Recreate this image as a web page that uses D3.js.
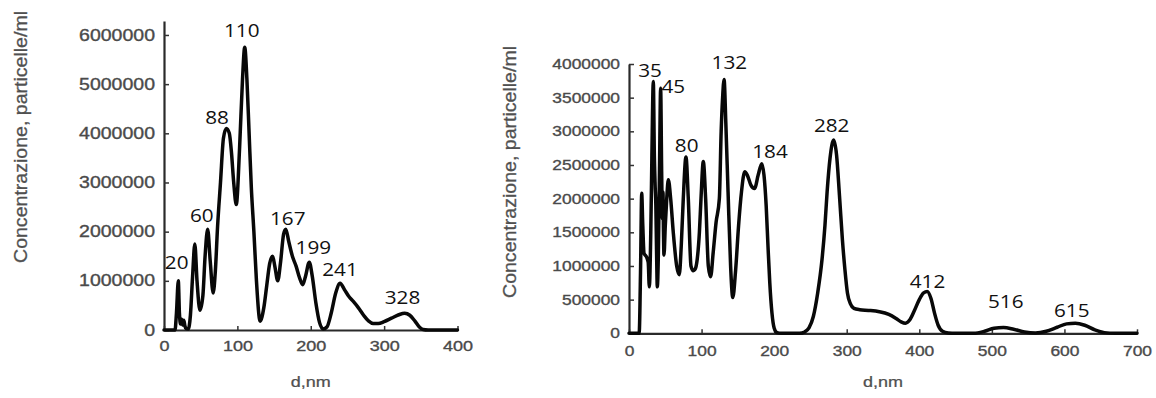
<!DOCTYPE html>
<html><head><meta charset="utf-8">
<script src="https://cdn.jsdelivr.net/npm/d3@7"></script>
<style>html,body{margin:0;padding:0;background:#fff;} svg{display:block;}</style>
</head><body>
<svg id="c" width="1156" height="398"></svg>
<script>
// ---------- DATA ----------
const yTitle = "Concentrazione, particelle/ml";
const xTitle = "d,nm";

// Left chart
const leftSize = [0,15,17,19.5,21,22.5,24,25.5,27,28.5,30,33,36,39,42,45,49,53,56,59.5,63,67,70,73,77,81,85,89,92,95,98.5,103,107,110,113,116,119,122.5,126,131,136,140,144,148,151,155,159,163,166,170,175,180,185,189,193,198,202,207,212,217,222,228,234,240,246,252,258,265,272,279,285,292,300,310,320,328,335,342,348,353,360,400];
const leftConc = [0,0,3.5e5,1.0e6,3.5e5,1.2e5,2.2e5,1.0e5,2.0e5,8e4,3e4,2e4,3.0e5,1.1e6,1.75e6,1.0e6,4.0e5,7.0e5,1.5e6,2.05e6,1.4e6,7.5e5,1.2e6,2.1e6,3.0e6,3.9e6,4.1e6,4.0e6,3.6e6,3.0e6,2.55e6,3.7e6,5.1e6,5.75e6,5.1e6,4.0e6,2.9e6,2.0e6,1.0e6,1.8e5,4.5e5,9.0e5,1.35e6,1.5e6,1.3e6,1.0e6,1.4e6,1.95e6,2.05e6,1.8e6,1.5e6,1.3e6,1.05e6,9.2e5,1.1e6,1.38e6,1.1e6,5.5e5,1.5e5,2e4,6e4,3.5e5,7.5e5,9.5e5,8.2e5,6.8e5,5.8e5,4.5e5,3.0e5,1.8e5,1.3e5,1.3e5,1.7e5,2.4e5,3.1e5,3.4e5,3.0e5,1.8e5,6e4,1e4,0,0];
const leftXTicks = [0,100,200,300,400];
const leftYTicks = [0,1000000,2000000,3000000,4000000,5000000,6000000];
const leftPeaks = [20,60,88,110,167,199,241,328];
const leftPeakConc = [1.0e6,2.05e6,4.1e6,5.75e6,2.05e6,1.38e6,9.5e5,3.4e5];

// Right chart
const rightSize = [0,14,16,17.5,19,20.7,24.3,26.5,28,30,31.5,33.5,35,36,37,38,39,40.5,42,43.6,45,46,46.8,47.5,48.2,50,52,54.2,57.4,61,65.7,69.3,72,74.8,78.5,81.7,85.4,88.6,91,94,97,99.2,102.4,105.6,109.3,112.5,116,120,124.5,127,129,131,133.5,136.5,140,143,147,151,155,159.5,163,168,173,178,183,186,189,191.5,194,197,200,204,210,235,242,248,254,260,266,270,273,277,282,286,290,294,297.5,301,305,310,318,330,345,358,368,375,381,387,393,400,406,411,416,421,426,432,440,450,475,490,503,516,530,545,560,575,590,603,615,628,642,655,670,700];
const rightConc = [0,0,1.0e6,2.08e6,1.6e6,1.19e6,1.13e6,1.05e6,6.9e5,1.5e6,2.6e6,3.74e6,2.6e6,2.2e6,1.9e6,1.2e6,6.9e5,1.2e6,2.4e6,3.64e6,2.4e6,1.7e6,2.1e6,1.5e6,1.16e6,1.6e6,2.0e6,2.28e6,2.0e6,1.5e6,1.0e6,8.7e5,1.3e6,2.0e6,2.62e6,2.0e6,1.0e6,9.3e5,9.5e5,1.1e6,1.5e6,2.0e6,2.55e6,2.0e6,1.0e6,8.4e5,1.2e6,1.65e6,2.0e6,3.0e6,3.5e6,3.77e6,3.1e6,2.1e6,1.0e6,5.3e5,9.5e5,1.6e6,2.1e6,2.4e6,2.35e6,2.2e6,2.15e6,2.35e6,2.52e6,2.35e6,1.9e6,1.3e6,7.5e5,3.0e5,8e4,1e4,0,0,2e4,8e4,2.5e5,6.0e5,1.1e6,1.6e6,2.1e6,2.6e6,2.87e6,2.65e6,2.05e6,1.4e6,9.5e5,6.0e5,4.4e5,3.7e5,3.5e5,3.4e5,3.2e5,2.8e5,2.2e5,1.7e5,1.5e5,2.0e5,3.3e5,5.0e5,6.0e5,6.2e5,5.2e5,3.0e5,1.2e5,3e4,5e3,0,0,3e4,7.5e4,8.5e4,6e4,2e4,5e3,3e4,9e4,1.4e5,1.5e5,1.2e5,5e4,1e4,0,0];
const rightXTicks = [0,100,200,300,400,500,600,700];
const rightYTicks = [0,500000,1000000,1500000,2000000,2500000,3000000,3500000,4000000];
const rightPeaks = [35,45,80,132,184,282,412,516,615];
const rightPeakConc = [3.74e6,3.64e6,2.62e6,3.77e6,2.52e6,2.87e6,6.2e5,8.5e4,1.5e5];

// ---------- LAYOUT / STYLE (not data) ----------
const leftLabelOffsets = [[-2,-18.3],[-6.3,-14],[-11.6,-11.4],[-3,-17],[1.2,-10.9],[3.3,-14.6],[-0.8,-14.3],[-2.2,-15.8]];
const rightLabelOffsets = [[-4.4,-10.8],[11.6,-2.2],[-0.4,-11.2],[4.5,-16.8],[7.5,-11.9],[-2,-15.1],[-0.5,-9.9],[2.3,-25.9],[-3.6,-13.2]];

const svg = d3.select("#c");
svg.append("rect").attr("width",1156).attr("height",398).attr("fill","#ffffff");

function drawChart(cfg){
  const x = d3.scaleLinear().domain(cfg.xDomain).range(cfg.xRange);
  const y = d3.scaleLinear().domain(cfg.yDomain).range(cfg.yRange);
  const g = svg.append("g");

  const styleTick = sel => sel
    .attr("font-family","'Liberation Sans', Arial, sans-serif")
    .attr("fill","#4a4a4a").attr("stroke","#4a4a4a").attr("stroke-width",0.35);

  // y axis
  const ya = g.append("g").attr("transform",`translate(${cfg.xRange[0]},0)`)
    .call(d3.axisLeft(y).tickValues(cfg.yTicks).tickSize(-5).tickSizeOuter(0).tickPadding(cfg.yPad).tickFormat(d3.format("d")));
  ya.selectAll("text").call(styleTick)
    .attr("font-size",cfg.yFont)
    .attr("transform",function(){const xx=+this.getAttribute("x");return `translate(${xx},0) scale(${cfg.yScaleX},1)`;})
    .attr("x",0);

  // x axis
  const xa = g.append("g").attr("transform",`translate(0,${cfg.yRange[0]})`)
    .call(d3.axisBottom(x).tickValues(cfg.xTicks).tickSize(-4).tickSizeOuter(0).tickPadding(cfg.xPad).tickFormat(d3.format("d")));
  xa.selectAll("text").call(styleTick)
    .attr("font-size",cfg.xFont)
    .attr("transform",`scale(${cfg.xScaleX},1)`);

  [ya,xa].forEach(a=>{
    a.select(".domain").attr("stroke","#2a2a2a").attr("stroke-width",2.2);
    a.selectAll(".tick line").attr("stroke","#333").attr("stroke-width",1.5);
  });

  // curve
  const pts = cfg.size.map((d,i)=>[d,cfg.conc[i]]);
  g.append("path").datum(pts)
    .attr("fill","none").attr("stroke","#080808").attr("stroke-width",3.5)
    .attr("stroke-linejoin","round").attr("stroke-linecap","round")
    .attr("d",d3.line().x(p=>x(p[0])).y(p=>y(p[1])).curve(d3.curveMonotoneX));

  // peak labels
  cfg.peaks.forEach((p,i)=>{
    const o = cfg.offsets[i];
    g.append("text")
      .attr("transform",`translate(${x(p)+o[0]},${y(cfg.peakConc[i])+o[1]}) scale(1.12,1)`)
      .attr("text-anchor","middle").attr("dy","0.36em")
      .attr("font-family","'Open Sans', 'Noto Sans', sans-serif")
      .attr("font-size",18.5).attr("fill","#111")
      .text(String(p));
  });

  // axis titles
  g.append("text")
    .attr("transform",`translate(${cfg.yTitlePos[0]},${cfg.yTitlePos[1]}) rotate(-90) scale(1,1.2)`)
    .attr("text-anchor","middle").attr("dy","0.35em")
    .attr("font-family","'Liberation Sans', Arial, sans-serif")
    .attr("font-size",15).attr("fill","#505050").attr("stroke","#505050").attr("stroke-width",0.25)
    .attr("textLength",252).attr("lengthAdjust","spacingAndGlyphs")
    .text(yTitle);
  g.append("text")
    .attr("transform",`translate(${(cfg.xRange[0]+cfg.xRange[1])/2},382) scale(1.2,1)`)
    .attr("text-anchor","middle").attr("dy","0.35em")
    .attr("font-family","'Liberation Sans', Arial, sans-serif")
    .attr("font-size",15).attr("fill","#505050").attr("stroke","#505050").attr("stroke-width",0.25)
    .text(xTitle);
}

drawChart({
  size:leftSize, conc:leftConc, xTicks:leftXTicks, yTicks:leftYTicks,
  peaks:leftPeaks, peakConc:leftPeakConc, offsets:leftLabelOffsets,
  xDomain:[0,400], xRange:[164,457.5], yDomain:[0,6284000], yRange:[330,21],
  yFont:16, yScaleX:1.22, yPad:9, xFont:15, xScaleX:1.2, xPad:10,
  yTitlePos:[21,137]
});
drawChart({
  size:rightSize, conc:rightConc, xTicks:rightXTicks, yTicks:rightYTicks,
  peaks:rightPeaks, peakConc:rightPeakConc, offsets:rightLabelOffsets,
  xDomain:[0,700], xRange:[629,1137], yDomain:[0,4000000], yRange:[333.3,64],
  yFont:14.5, yScaleX:1.2, yPad:9, xFont:14.5, xScaleX:1.2, xPad:12,
  yTitlePos:[510,172]
});
</script>
</body></html>
